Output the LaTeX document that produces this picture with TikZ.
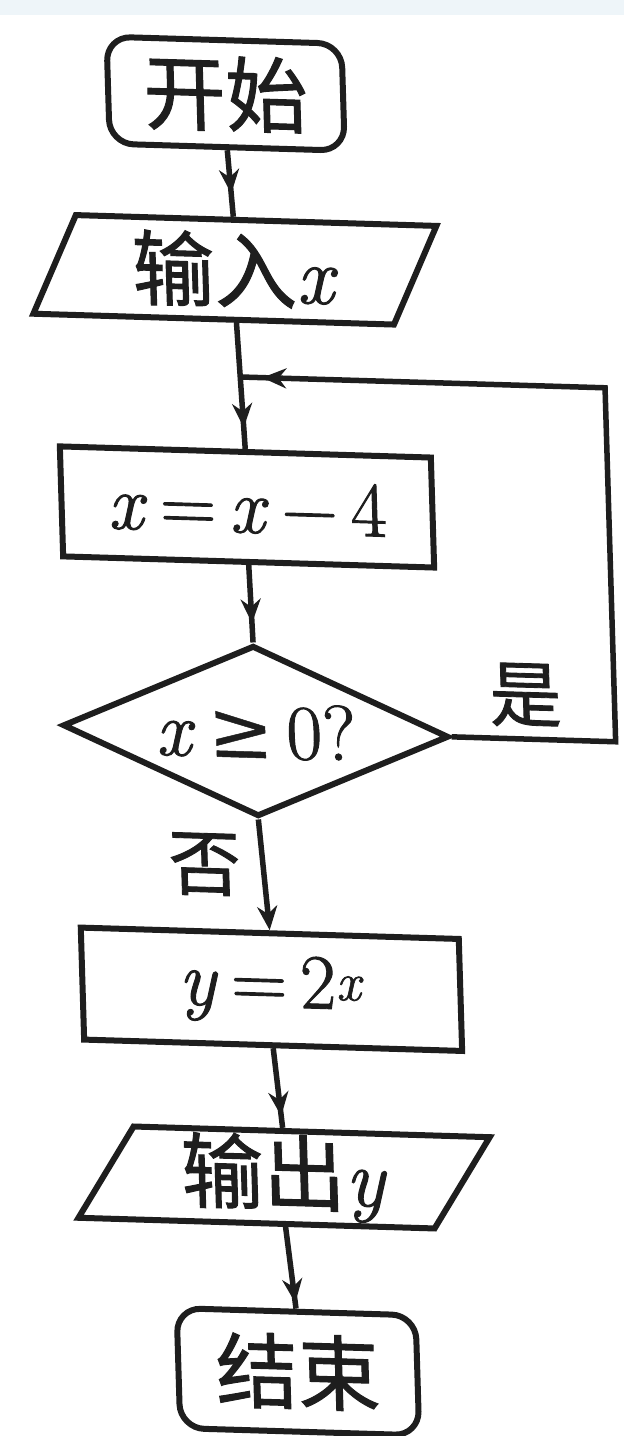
\documentclass[tikz,border=0pt]{standalone}
\usepackage{fontspec}
\newfontfamily\cjk[FakeBold=1.2]{Noto Sans CJK SC}
\newfontfamily\mth[FakeBold=1.2, ItalicFeatures={FakeBold=1.2}]{Latin Modern Roman}
\newfontfamily\sym[FakeBold=0.6]{DejaVu Serif}
\usetikzlibrary{shapes.geometric,arrows.meta,decorations.markings,calc}
\definecolor{ink}{HTML}{1E1E1E}
\definecolor{strip}{HTML}{EEF5F9}
\tikzset{
  shp/.style={draw=ink, line width=6pt, inner sep=0pt, text=ink},
  stepbox/.style={shp, rectangle},
  termbox/.style={shp, rectangle, rounded corners=24pt},
  iobox/.style={shp, trapezium, trapezium stretches body},
  decbox/.style={shp, diamond, aspect=2.26},
  conn/.style={draw=ink, line width=5.5pt},
  flowto/.style={conn, decoration={markings, mark=at position #1 with {\arrow{Stealth[length=24pt,width=20pt]}}}, postaction={decorate}},
  endarrow/.style={conn, -{Stealth[length=24pt,width=20pt]}},
  cjkbig/.style={font=\fontsize{82}{90}\selectfont},
  mathbig/.style={font=\fontsize{78}{86}\selectfont\mth},
  lbl/.style={text=ink, inner sep=0pt, font=\fontsize{72}{80}\selectfont}
}
\newcommand{\vx}{\textit{x}}
\newcommand{\vy}{\textit{y}}
\begin{document}
\begin{tikzpicture}[x=1pt,y=-1pt]
\useasboundingbox (0,0) rectangle (624,1436);
\fill[white] (0,0) rectangle (624,1436);
\fill[strip] (0,0) rectangle (624,15);

\begin{scope}[cm={1,-0.03,-0.03,1,(0,0)}, transform shape]
\node[termbox, cjkbig, minimum width=235pt, minimum height=107pt] (start) at (223,87) {\cjk 开始};
\node[iobox, cjkbig, trapezium left angle=59, trapezium right angle=121, minimum width=406pt, minimum height=100pt] (in) at (227,263) {\cjk 输入\mth\vx};
\node[stepbox, mathbig, minimum width=371pt, minimum height=110pt] (p1) at (232,500) {\vx\,=\,\vx\,−\,4};
\node[decbox, mathbig, minimum width=386pt, minimum height=171pt] (dec) at (234,724) {\vx\,{\sym ≥}\,0?};
\node[stepbox, mathbig, minimum width=378pt, minimum height=112pt] (p2) at (242,982) {\vy\,=\,2\textsuperscript{\vx}};
\node[iobox, cjkbig, trapezium left angle=56, trapezium right angle=124, minimum width=414pt, minimum height=93pt] (out) at (249,1170) {\cjk 输出\mth\vy};
\node[termbox, cjkbig, minimum width=239pt, minimum height=120pt] (stop) at (257,1364) {\cjk 结束};

\node[lbl] (yes) at (505,680) {\cjk 是};
\node[lbl] (no) at (179,859) {\cjk 否};

\coordinate (join) at ($(in.south)!0.43!(p1.north)$);
\coordinate (rb) at (594,724);
\coordinate (rt) at (594,370);

\draw[flowto=0.65] (start.south) -- (in.north);
\draw[flowto=0.83] (in.south) -- (p1.north);
\draw[flowto=0.75] (p1.south) -- (dec.north);
\draw[endarrow] (dec.south) -- (p2.north);
\draw[flowto=0.85] (p2.south) -- (out.north);
\draw[flowto=0.93] (out.south) -- (stop.north);
\draw[flowto=0.975, line join=miter] (dec.east) -- (rb) -- (rt) -- (join);
\end{scope}
\end{tikzpicture}
\end{document}
